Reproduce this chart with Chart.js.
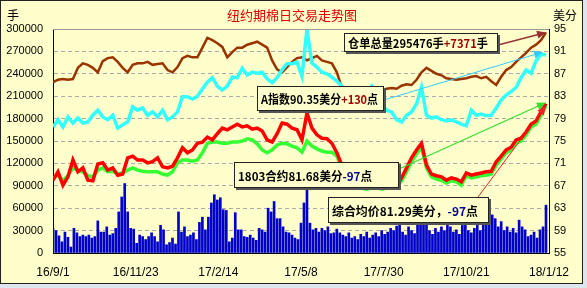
<!DOCTYPE html>
<html>
<head>
<meta charset="utf-8">
<script src="https://cdn.jsdelivr.net/npm/chart.js@4.4.1/dist/chart.umd.min.js"></script>
<style>
  html, body { margin: 0; padding: 0; background: #dde5ef; }
  #wrap { width: 587px; height: 288px; }
</style>
</head>
<body>
<div id="wrap"><canvas id="cotton" width="587" height="288"></canvas></div>
<script>
// x axis: days since 16/9/1, a label every 83 days
const tickDays = 83;
const tickLabels = ["16/9/1", "16/11/23", "17/2/14", "17/5/8", "17/7/30", "17/10/21", "18/1/12"];
const lineStep = 5; // days between line samples
const barStep = 3;  // days between volume bars

// 仓单总量 (手), left axis
const stockTotal = [
  229000, 232000, 233000, 232000, 233000, 248000, 254000, 252000, 248000, 242000,
  257000, 261000, 262000, 256000, 248000, 242000, 252000, 254000, 254000, 256000,
  252000, 253000, 254000, 245000, 242000, 249000, 261000, 264000, 262000, 262000,
  275000, 288000, 285000, 281000, 276000, 262000, 269000, 275000, 275000, 279000,
  281000, 283000, 279000, 275000, 258000, 246000, 242000, 249000, 256000, 261000,
  262000, 258000, 261000, 264000, 258000, 256000, 254000, 242000, 221000, 217000,
  216000, 217000, 218000, 217000, 218000, 218000, 218000, 220000, 221000, 220000,
  224000, 226000, 225000, 232000, 242000, 248000, 244000, 240000, 238000, 234000,
  233000, 232000, 233000, 234000, 236000, 237000, 234000, 236000, 230000, 225000,
  236000, 245000, 249000, 256000, 262000, 268000, 275000, 279000, 285000, 295476
];

// A指数 (美分), right axis
const aIndex = [
  77.5, 78.8, 77.5, 79.3, 78.2, 79.1, 78.2, 78.4, 79.6, 80.5,
  79.3, 78.8, 79.6, 77.3, 77.9, 78.4, 81.1, 80.5, 80.9, 79.6,
  80.2, 79.3, 80.5, 78.8, 79.3, 80.2, 82.9, 82.9, 82.5, 83.0,
  84.3, 85.5, 86.3, 84.8, 84.1, 84.8, 86.4, 86.3, 88.0, 86.8,
  87.3, 87.1, 87.3, 86.1, 85.4, 86.3, 87.7, 88.8, 88.8, 89.1,
  86.6, 95.0, 88.9, 88.2, 87.3, 87.0, 86.4, 85.7, 84.8, 83.6,
  83.0, 82.9, 83.2, 83.8, 84.8, 83.2, 81.6, 80.5, 80.2, 78.8,
  78.4, 79.6, 80.2, 81.6, 84.6, 79.6, 79.1, 79.3, 78.8, 78.6,
  78.8, 78.4, 78.0, 77.7, 80.5, 79.6, 79.8, 79.5, 79.6, 80.9,
  82.3, 83.2, 83.8, 84.6, 86.3, 87.7, 87.1, 89.3, 90.5, 90.35
];

// 1803合约 (美分)
const contract1803 = [
  68.0, 69.5, 67.1, 68.6, 71.6, 69.5, 70.2, 68.0, 67.9, 70.9,
  71.1, 69.8, 70.2, 68.9, 69.1, 72.0, 72.3, 71.6, 71.6, 71.1,
  71.3, 72.0, 70.4, 70.2, 70.5, 72.0, 73.8, 72.9, 73.4, 74.6,
  74.8, 75.7, 75.2, 76.3, 77.3, 77.0, 77.5, 78.0, 77.5, 77.7,
  77.1, 77.3, 76.8, 75.2, 74.8, 76.3, 78.2, 78.0, 77.3, 77.0,
  75.2, 80.0, 77.3, 76.1, 75.5, 75.4, 74.6, 72.9, 70.7, 69.5,
  68.4, 67.5, 66.8, 66.6, 67.0, 67.1, 66.8, 67.0, 67.0, 67.1,
  68.4, 70.2, 72.0, 73.4, 74.6, 70.7, 69.1, 68.8, 68.6, 68.0,
  68.4, 68.2, 67.7, 69.3, 68.9, 69.1, 69.3, 69.5, 69.6, 71.3,
  72.3, 73.4, 73.9, 75.2, 75.5, 76.6, 78.0, 78.6, 80.2, 81.68
];

// 综合均价 (美分)
const avgPrice = [
  68.4, 68.8, 68.0, 68.8, 70.2, 69.8, 69.5, 68.8, 68.6, 69.8,
  70.2, 69.5, 69.6, 69.1, 69.3, 69.8, 70.2, 69.8, 69.6, 69.5,
  69.5, 69.5, 69.1, 68.9, 69.5, 71.1, 71.6, 71.6, 71.4, 71.6,
  72.9, 74.6, 74.8, 74.8, 74.6, 74.6, 74.8, 74.8, 75.0, 75.4,
  75.2, 74.5, 73.4, 72.9, 73.4, 74.3, 74.6, 74.5, 74.1, 73.8,
  73.0, 75.0, 74.1, 73.6, 73.2, 73.0, 73.0, 72.3, 70.2, 68.8,
  67.9, 67.1, 66.6, 66.4, 66.6, 66.8, 66.4, 66.6, 66.6, 66.8,
  67.9, 69.5, 71.3, 72.7, 73.9, 70.2, 68.6, 68.2, 68.0, 67.5,
  67.9, 67.7, 67.1, 68.8, 68.4, 68.6, 68.8, 68.9, 69.1, 70.7,
  71.8, 72.9, 73.4, 74.6, 75.0, 76.1, 77.5, 78.0, 79.6, 81.29
];

// 成交量 (手)
const volume = [
  33000, 30000, 23000, 15000, 28000, 21000, 8000, 33000, 27000, 22000,
  24000, 22000, 24000, 20000, 22000, 43000, 28000, 28000, 35000, 24000,
  26000, 33000, 55000, 75000, 93000, 55000, 33000, 32000, 13000, 24000,
  22000, 18000, 22000, 27000, 22000, 15000, 37000, 31000, 11000, 14000,
  20000, 12000, 55000, 28000, 35000, 22000, 24000, 27000, 18000, 41000,
  48000, 31000, 48000, 67000, 78000, 71000, 74000, 58000, 57000, 15000,
  20000, 54000, 31000, 31000, 22000, 21000, 24000, 20000, 17000, 33000,
  31000, 28000, 60000, 55000, 69000, 46000, 46000, 35000, 28000, 27000,
  24000, 20000, 18000, 40000, 67000, 91000, 40000, 31000, 33000, 28000,
  33000, 30000, 35000, 26000, 27000, 32000, 27000, 24000, 22000, 27000,
  20000, 22000, 18000, 25000, 22000, 28000, 20000, 24000, 27000, 22000,
  30000, 25000, 28000, 33000, 30000, 36000, 44000, 28000, 24000, 35000,
  30000, 26000, 40000, 42000, 38000, 44000, 30000, 25000, 33000, 28000,
  35000, 30000, 51000, 35000, 28000, 31000, 25000, 37000, 42000, 30000,
  27000, 33000, 37000, 30000, 41000, 53000, 40000, 51000, 46000, 35000,
  42000, 30000, 35000, 28000, 33000, 27000, 44000, 35000, 31000, 22000,
  24000, 28000, 20000, 31000, 35000, 64000
];

const tickFont = { family: "Liberation Sans", size: 11 };
const noteFont = "bold 12px 'Noto Sans CJK SC'";

function toPoints(arr, step) {
  return arr.map((v, i) => ({ x: i * step, y: v }));
}

// boxed notes: [left, top, width, height], text width to fit
const notes = [
  { box: [344, 33, 154, 19], fit: 140, parts: [["仓单总量295476手", "#000"], ["+7371", "#990000"], ["手", "#000"]] },
  { box: [257, 86, 127, 25], fit: 117, parts: [["A指数90.35美分", "#000"], ["+130", "#990000"], ["点", "#000"]] },
  { box: [234, 162, 165, 26], fit: 134, parts: [["1803合约81.68美分", "#000"], ["-97", "#000099"], ["点", "#000"]] },
  { box: [328, 197, 161, 26], fit: 146, parts: [["综合均价81.29美分，", "#000"], ["-97", "#000099"], ["点", "#000"]] }
];

function drawNote(ctx, n) {
  const [x, yy, w, h] = n.box;
  ctx.fillStyle = "#555";
  ctx.fillRect(x + 2, yy + 2, w, h);
  ctx.fillStyle = "#ffffcc";
  ctx.fillRect(x, yy, w, h);
  ctx.strokeStyle = "#222";
  ctx.lineWidth = 1;
  ctx.strokeRect(x + 0.5, yy + 0.5, w - 1, h - 1);
  ctx.font = noteFont;
  ctx.textAlign = "left";
  ctx.textBaseline = "middle";
  const full = n.parts.reduce((s, p) => s + ctx.measureText(p[0]).width, 0);
  const sx = Math.min(1, n.fit / full);
  ctx.save();
  ctx.translate(x + 4, yy + h / 2 + 1);
  ctx.scale(sx, 1);
  let tx = 0;
  n.parts.forEach(([t, c]) => {
    ctx.fillStyle = c;
    ctx.fillText(t, tx, 0);
    tx += ctx.measureText(t).width;
  });
  ctx.restore();
}

function arrow(ctx, x0, y0, x1, y1, color, w) {
  const ang = Math.atan2(y1 - y0, x1 - x0);
  ctx.strokeStyle = color;
  ctx.fillStyle = color;
  ctx.lineWidth = w;
  ctx.beginPath();
  ctx.moveTo(x0, y0);
  ctx.lineTo(x1 - 6 * Math.cos(ang), y1 - 6 * Math.sin(ang));
  ctx.stroke();
  ctx.beginPath();
  ctx.moveTo(x1, y1);
  ctx.lineTo(x1 - 9 * Math.cos(ang) + 4 * Math.sin(ang), y1 - 9 * Math.sin(ang) - 4 * Math.cos(ang));
  ctx.lineTo(x1 - 9 * Math.cos(ang) - 4 * Math.sin(ang), y1 - 9 * Math.sin(ang) + 4 * Math.cos(ang));
  ctx.closePath();
  ctx.fill();
}

// frame, titles and the boxed notes
const decorPlugin = {
  id: "decor",
  beforeDraw(chart) {
    const ctx = chart.ctx;
    ctx.save();
    ctx.fillStyle = "#dde5ef";
    ctx.fillRect(0, 0, chart.width, chart.height);
    ctx.fillStyle = "#ffffcc";
    ctx.fillRect(0, 0, 583, 284);
    ctx.strokeStyle = "#222";
    ctx.lineWidth = 1;
    ctx.strokeRect(0.5, 0.5, 582, 283);
    ctx.restore();
  },
  afterDatasetsDraw(chart) {
    const ctx = chart.ctx;
    const a = chart.chartArea;
    const xs = chart.scales.x, y = chart.scales.y, y1 = chart.scales.y1;
    ctx.save();
    // top frame line
    ctx.strokeStyle = "#999";
    ctx.lineWidth = 1;
    ctx.beginPath();
    ctx.moveTo(a.left, a.top + 0.5);
    ctx.lineTo(a.right, a.top + 0.5);
    ctx.stroke();

    // arrows from the notes to the last values
    const lastX = xs.getPixelForValue((stockTotal.length - 1) * lineStep);
    arrow(ctx, 498, 45, lastX, y.getPixelForValue(stockTotal[stockTotal.length - 1]), "#993333", 1.5);
    arrow(ctx, 384, 100, lastX - 3, y1.getPixelForValue(aIndex[aIndex.length - 1]) - 3, "#33ccff", 1);
    arrow(ctx, 399, 169, lastX, y1.getPixelForValue(contract1803[contract1803.length - 1]) - 1, "#33dd33", 1.2);
    arrow(ctx, 478, 197, lastX, y1.getPixelForValue(avgPrice[avgPrice.length - 1]), "#ee2222", 1);

    notes.forEach(n => drawNote(ctx, n));

    // titles
    ctx.textBaseline = "middle";
    ctx.fillStyle = "#e00000";
    ctx.font = "13px 'Noto Sans CJK SC'";
    ctx.textAlign = "center";
    ctx.fillText("纽约期棉日交易走势图", 292, 15);
    ctx.fillStyle = "#000";
    ctx.font = "12px 'Noto Sans CJK SC'";
    ctx.textAlign = "left";
    ctx.fillText("手", 7, 15);
    ctx.fillText("美分", 553, 15);
    ctx.restore();
  }
};

new Chart(document.getElementById("cotton"), {
  type: "bar",
  data: {
    datasets: [
      { type: "line", label: "1803合约", data: toPoints(contract1803, lineStep), yAxisID: "y1",
        borderColor: "#ff0000", borderWidth: 3.5, pointRadius: 0, order: 1 },
      { type: "line", label: "综合均价", data: toPoints(avgPrice, lineStep), yAxisID: "y1",
        borderColor: "#33ff33", borderWidth: 3.5, pointRadius: 0, order: 2 },
      { type: "line", label: "A指数", data: toPoints(aIndex, lineStep), yAxisID: "y1",
        borderColor: "#33ffff", borderWidth: 3.5, pointRadius: 0, order: 3 },
      { type: "line", label: "仓单总量", data: toPoints(stockTotal, lineStep), yAxisID: "y",
        borderColor: "#993300", borderWidth: 2.5, pointRadius: 0, order: 4 },
      { type: "bar", label: "成交量", data: toPoints(volume, barStep), yAxisID: "y",
        backgroundColor: "#0000cc", barThickness: 2, order: 5 }
    ]
  },
  options: {
    responsive: false,
    animation: false,
    devicePixelRatio: 1,
    layout: { padding: { top: 29, left: 0, right: 0, bottom: 0 } },
    plugins: { legend: { display: false }, tooltip: { enabled: false } },
    scales: {
      x: {
        type: "linear", min: 0, max: 498, offset: false,
        afterFit(s) { s.height = 35; },
        grid: { display: false, drawTicks: false },
        border: { display: true, color: "#000" },
        ticks: {
          stepSize: tickDays, autoSkip: false, maxRotation: 0, padding: 12,
          color: "#000", font: { family: "Liberation Sans", size: 12 },
          callback: v => tickLabels[Math.round(v / tickDays)]
        }
      },
      y: {
        position: "left", min: 0, max: 300000,
        afterFit(s) { s.width = 53; },
        grid: { color: "#aaaaaa", drawTicks: false },
        border: { color: "#000", dash: [4, 3] },
        ticks: { stepSize: 30000, padding: 10, color: "#000", font: tickFont, callback: v => String(v) }
      },
      y1: {
        position: "right", min: 55, max: 95,
        afterFit(s) { s.width = 38; },
        grid: { display: false, drawTicks: false },
        border: { color: "#000" },
        ticks: { stepSize: 4, padding: 5, color: "#000", font: tickFont, callback: v => String(v) }
      }
    }
  },
  plugins: [decorPlugin]
});
</script>
</body>
</html>
